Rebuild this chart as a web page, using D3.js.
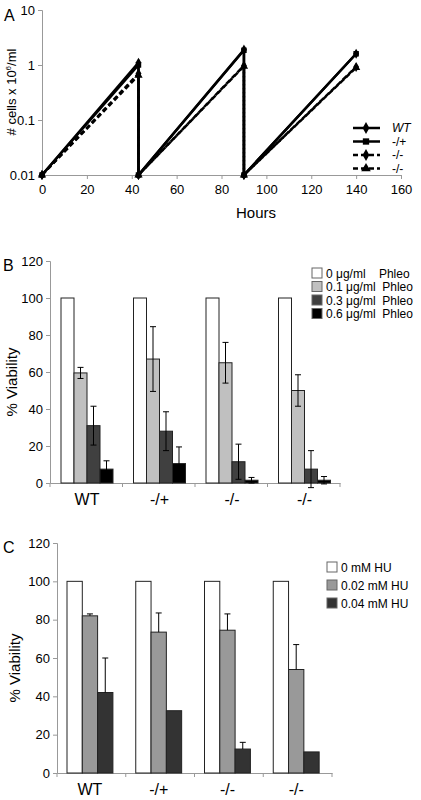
<!DOCTYPE html><html><head><script src="https://cdn.jsdelivr.net/npm/d3@7"></script>
<style>body{margin:0;background:#fff}text{font-family:"Liberation Sans",Arial,sans-serif}</style></head><body>
<svg id="c" width="421" height="800"></svg>
<script>
const hoursA=[0,43,43,90,90,140];
const seriesA=[
 {name:"WT",dash:false,sym:d3.symbolDiamond,v:[0.01,1.1,0.01,1.9,0.01,1.6]},
 {name:"-/+",dash:false,sym:d3.symbolSquare,v:[0.01,1.0,0.01,1.85,0.01,1.6]},
 {name:"-/-",dash:true,sym:d3.symbolDiamond,v:[0.01,0.7,0.01,0.97,0.01,0.92]},
 {name:"-/-",dash:true,sym:d3.symbolTriangle,v:[0.01,0.65,0.01,0.95,0.01,0.9]}];
const xTicksA=[0,20,40,60,80,100,120,140,160];
const yTicksA=[0.01,0.1,1,10];
const catB=["WT","-/+","-/-","-/-"];
const legB=["0 μg/ml    Phleo","0.1 μg/ml  Phleo","0.3 μg/ml  Phleo","0.6 μg/ml  Phleo"];
const valB=[[100,59.5,31,7.5],[100,67,28,10.5],[100,65,11.5,1.5],[100,50,7.5,1.5]];
const errB=[[0,3,10.5,4.5],[0,17.5,10.5,9],[0,11,9.5,1.5],[0,8.5,10,2]];
const colB=["#fff","#c0c0c0","#404040","#000"];
const catC=["WT","-/+","-/-","-/-"];
const legC=["0 mM HU","0.02 mM HU","0.04 mM HU"];
const valC=[[100,82,42],[100,73.5,32.5],[100,74.5,12.5],[100,54,11]];
const errC=[[0,1,18],[0,10,0],[0,8.5,3.5],[0,13,0]];
const colC=["#fff","#999","#333"];
const yTicksBar=[0,20,40,60,80,100,120];

const svg=d3.select("#c");
// Panel A
const xA=d3.scaleLinear().domain([0,160]).range([42,401]);
const yA=d3.scaleLog().domain([0.01,10]).range([175,10]);
const gA=svg.append("g");
gA.append("g").attr("transform","translate(0,175)").call(d3.axisBottom(xA).tickValues(xTicksA).tickSize(4)).call(g=>g.selectAll("text").attr("font-size",13).attr("dy","0.9em"));
gA.append("g").attr("transform","translate(42,0)").call(d3.axisLeft(yA).tickValues(yTicksA).tickFormat(d3.format("~g")).tickSize(4)).call(g=>g.selectAll("text").attr("font-size",13));
gA.selectAll(".domain,.tick line").attr("stroke","#999");
seriesA.forEach(s=>{
 const pts=hoursA.map((h,i)=>[xA(h),yA(s.v[i])]);
 gA.append("path").attr("d",d3.line()(pts)).attr("fill","none").attr("stroke","#000").attr("stroke-width",2.5).attr("stroke-dasharray",s.dash?"5,3":null);
 gA.selectAll(null).data(pts).join("path").attr("transform",d=>`translate(${d})`).attr("d",d3.symbol(s.sym,30)).attr("fill","#000");
});
seriesA.forEach((s,i)=>{
 const y=128+i*13.5;
 gA.append("line").attr("x1",353).attr("x2",380).attr("y1",y).attr("y2",y).attr("stroke","#000").attr("stroke-width",2.5).attr("stroke-dasharray",s.dash?"5,3":null);
 gA.append("path").attr("transform",`translate(366,${y})`).attr("d",d3.symbol(s.sym,40)).attr("fill","#000");
 gA.append("text").attr("x",392).attr("y",y+4).attr("font-size",12).attr("font-style",i==0?"italic":null).text(s.name);
});
gA.append("text").attr("x",256).attr("y",218).attr("text-anchor","middle").attr("font-size",15).text("Hours");
gA.append("text").attr("transform","translate(16,92) rotate(-90)").attr("text-anchor","middle").attr("font-size",13).html('# cells x 10<tspan dy="-5" font-size="8">6</tspan><tspan dy="5">/ml</tspan>');
gA.append("text").attr("x",4).attr("y",21).attr("font-size",16).text("A");

function bars(o){
 const g=svg.append("g");
 const x=d3.scaleBand().domain(d3.range(o.cats.length)).range([o.x0,o.x1]);
 const y=d3.scaleLinear().domain([0,120]).range([o.y0,o.y120]);
 g.append("g").attr("transform",`translate(0,${o.y0})`).call(d3.axisBottom(x).tickSize(0).tickFormat(()=>"")).select(".domain").attr("stroke","#999");
 g.append("g").attr("transform",`translate(0,${o.y0})`).selectAll("line").data(d3.range(o.cats.length+1)).join("line").attr("x1",i=>o.x0+i*x.step()).attr("x2",i=>o.x0+i*x.step()).attr("y2",4).attr("stroke","#999");
 g.append("g").attr("transform",`translate(${o.x0},0)`).call(d3.axisLeft(y).tickValues(yTicksBar).tickSize(4)).call(a=>{a.selectAll("text").attr("font-size",13);a.selectAll(".domain,.tick line").attr("stroke","#999");});
 const bw=o.bw;
 o.vals.forEach((vs,gi)=>vs.forEach((v,j)=>{
  const bx=x(gi)+o.off+j*bw;
  g.append("rect").attr("x",bx).attr("y",y(v)).attr("width",bw).attr("height",o.y0-y(v)).attr("fill",o.cols[j]).attr("stroke","#222").attr("stroke-width",1);
  const e=o.errs[gi][j];
  if(e>0){const cx=bx+bw/2;const lo=o.both?v-e:v;
   g.append("line").attr("x1",cx).attr("x2",cx).attr("y1",y(lo)).attr("y2",y(v+e)).attr("stroke","#000");
   g.append("line").attr("x1",cx-3).attr("x2",cx+3).attr("y1",y(v+e)).attr("y2",y(v+e)).attr("stroke","#000");
   if(o.both)g.append("line").attr("x1",cx-3).attr("x2",cx+3).attr("y1",y(lo)).attr("y2",y(lo)).attr("stroke","#000");}
 }));
 o.cats.forEach((c,i)=>g.append("text").attr("x",x(i)+o.off+bw*o.vals[0].length/2).attr("y",o.y0+o.labDy).attr("text-anchor","middle").attr("font-size",16).text(c));
 o.leg.forEach((l,i)=>{const ly=o.ly+i*o.lstep;
  g.append("rect").attr("x",o.lx).attr("y",ly-5).attr("width",10).attr("height",10).attr("fill",o.cols[i]).attr("stroke","#666");
  g.append("text").attr("x",o.lx+14).attr("y",ly+4.5).attr("font-size",12).style("white-space","pre").text(l);});
 g.append("text").attr("transform",`translate(${o.yl},${(o.y0+o.y120)/2+10}) rotate(-90)`).attr("text-anchor","middle").attr("font-size",15).text("% Viability");
 g.append("text").attr("x",3).attr("y",o.y120+10).attr("font-size",16).text(o.letter);
}
bars({cats:catB,vals:valB,errs:errB,cols:colB,leg:legB,x0:50,x1:340,y0:483,y120:261,bw:13,off:11,both:true,labDy:22,lx:312,ly:273,lstep:13.5,yl:17,letter:"B"});
bars({cats:catC,vals:valC,errs:errC,cols:colC,leg:legC,x0:57,x1:332,y0:773,y120:543,bw:15.3,off:10,both:false,labDy:22,lx:327,ly:567,lstep:18,yl:20,letter:"C"});
</script></body></html>
